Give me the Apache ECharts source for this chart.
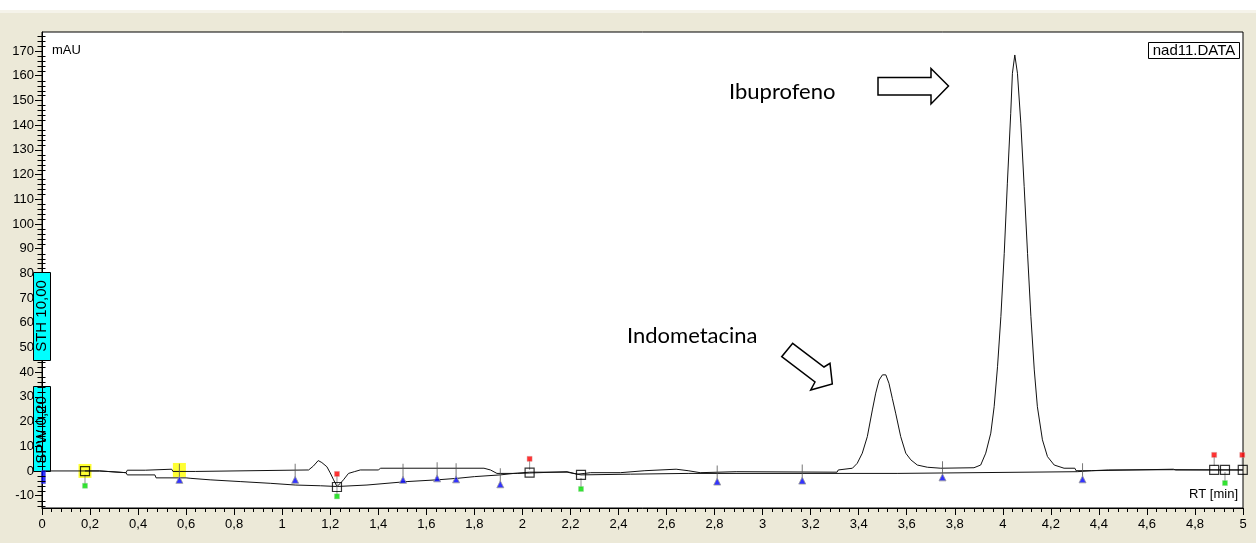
<!DOCTYPE html>
<html>
<head>
<meta charset="utf-8">
<script src="https://cdn.jsdelivr.net/npm/echarts@6/dist/echarts.min.js"></script>
<style>
html,body{margin:0;padding:0;background:#ECE9D8;}
#c{width:1256px;height:543px;}
</style>
</head>
<body>
<div id="c"></div>
<script>
// ---- data (RT in min, signal in mAU) ----
const signalRT  = [0,0.24,0.245,0.35,0.355,0.43,0.435,0.54,0.545,0.64,0.645,1.11,1.13,1.15,1.165,1.186,1.2,1.214,1.228,1.242,1.255,1.276,1.30,1.325,1.40,1.41,1.84,1.867,1.894,1.98,1.985,2.186,2.228,2.26,2.283,2.408,2.41,2.51,2.515,2.64,2.645,2.69,2.695,2.74,2.745,2.89,2.895,3.31,3.315,3.374,3.394,3.415,3.436,3.457,3.471,3.485,3.499,3.513,3.526,3.540,3.554,3.575,3.596,3.617,3.644,3.686,3.742,3.88,3.908,3.929,3.95,3.964,3.978,3.992,4.006,4.019,4.033,4.040,4.05,4.061,4.075,4.089,4.103,4.117,4.131,4.144,4.165,4.186,4.214,4.255,4.30,4.305,4.37,4.375,4.71,4.72,5.0];
const signalMAU = [0,0,-0.7,-0.7,0.3,0.3,0.7,0.7,-0.2,-0.2,0.4,0.4,2.0,4.2,3.4,1.7,-0.8,-3.6,-6.3,-5.0,-3.6,-1.0,-0.3,0.4,0.4,1.1,1.1,0.4,-1.0,-1.0,-0.3,-0.3,-1.3,-1.0,-0.7,-0.7,0.1,0.1,0.7,0.7,0.1,0.1,-0.7,-0.7,-0.3,-0.3,-0.5,-0.5,0.4,1.1,3.1,7.2,13.9,24.7,31.5,36.8,38.9,38.9,35.5,29.4,23.4,13.9,7.2,4.5,2.4,1.5,1.1,1.3,2.4,7.2,15.3,26.0,42.2,62.5,88.1,116.5,144.8,161.0,168.4,161.0,140.8,115.1,88.1,62.5,40.9,26.0,12.6,5.8,2.4,1.1,1.1,0.1,0.1,0.7,0.7,0.4,0.4];

const baselineRT  = [0.179,0.24,0.245,0.35,0.355,0.47,0.475,0.6,0.62,0.7,0.825,0.95,1.054,1.16,1.228,1.353,1.52,1.645,1.728,1.80,1.908,1.964,2.03,2.186,2.244,2.45,2.69,3.56,3.565,4.31,4.37,4.44,4.71,5.0];
const baselineMAU = [0,0,-0.7,-0.7,-1.6,-1.6,-2.8,-2.8,-3.0,-3.6,-4.3,-5.0,-5.7,-6.0,-6.3,-5.7,-4.3,-3.6,-3.0,-2.3,-1.6,-1.0,-0.5,-0.5,-1.6,-1.3,-1.0,-1.0,-0.3,-0.3,0.1,0.4,0.5,0.4];

// integration event markers
const blueRT  = [0.572,1.054,1.503,1.645,1.724,1.908,2.811,3.165,3.749,4.332];
const blueMAU = [-3.6,-3.6,-3.6,-3.0,-3.4,-5.4,-4.3,-3.9,-2.6,-3.4];
const startRT = [0.006];
const startMAU = [-2.5];
const redRT   = [1.228,2.03,4.88,4.997];
const redMAU  = [-1.2,4.9,6.5,6.5];
const greenRT = [0.179,1.228,2.244,4.925];
const greenMAU= [-6.0,-10.3,-7.3,-4.9];
const squareRT  = [0.179,1.228,2.03,2.244,4.88,4.925,4.999];
const squareMAU = [-0.1,-6.5,-0.7,-1.6,0.4,0.4,0.4];
const yellowRT  = [0.179,0.572];
const yellowMAU = [0.0,0.4];

// axis ticks
const yMajorTicks = [-10,0,10,20,30,40,50,60,70,80,90,100,110,120,130,140,150,160,170];
const xMin = 0, xMax = 5, xStep = 0.2;
const yMin = -15, yMax = 177.7;

const zip = (a,b) => a.map((v,i)=>[v,b[i]]);
const yMinorTicks = [-14,-12];
for (let i = 0; i < yMajorTicks.length; i++) {
  for (let k = 1; k < 5; k++) {
    const v = yMajorTicks[i] + k*2;
    if (v <= yMax) yMinorTicks.push(v);
  }
}

const chart = echarts.init(document.getElementById('c'), null, {renderer:'canvas'});
const AX = 'Liberation Sans';

const option = {
  animation: false,
  backgroundColor: '#ECE9D8',
  grid: {left: 42, right: 13, top: 32, bottom: 35, show: true, backgroundColor: '#fff', borderColor: '#000', borderWidth: 1},
  xAxis: {
    type: 'value', min: xMin, max: xMax, interval: xStep,
    axisLine: {show: true, onZero: false, lineStyle: {color: '#000', width: 1}},
    axisTick: {show: true, length: 7, lineStyle: {color: '#000'}},
    minorTick: {show: true, splitNumber: 5, length: 4, lineStyle: {color: '#000'}},
    axisLabel: {color: '#000', fontSize: 13, fontFamily: AX, margin: 10,
      formatter: v => String(Math.round(v*10)/10).replace('.', ',')},
    splitLine: {show: false}
  },
  yAxis: {
    type: 'value', min: yMin, max: yMax,
    axisLine: {show: true, onZero: false, lineStyle: {color: '#000', width: 1}},
    axisTick: {show: true, length: 7, customValues: yMajorTicks, lineStyle: {color: '#000'}},
    axisLabel: {color: '#000', fontSize: 13, fontFamily: AX, margin: 8, customValues: yMajorTicks},
    splitLine: {show: false}
  },
  series: [
    {type: 'line', data: zip(baselineRT, baselineMAU), showSymbol: false, symbol: 'none',
     lineStyle: {color: '#111', width: 1}, z: 2},
    {type: 'line', data: zip(signalRT, signalMAU), showSymbol: false, symbol: 'none',
     lineStyle: {color: '#111', width: 1}, z: 3},
    // yellow highlights
    {type: 'scatter', data: zip(yellowRT, yellowMAU), symbol: 'rect', symbolSize: [13, 14],
     itemStyle: {color: '#FFFF00'}, z: 1, silent: true},
    // start marker (blue bar at RT 0)
    {type: 'scatter', data: zip(startRT, startMAU), symbol: 'rect', symbolSize: [4, 13],
     itemStyle: {color: '#0000FF', borderColor: '#5555cc', borderWidth: 0.5}, z: 5, silent: true},
    // blue sticks + triangles
    {type: 'scatter', data: zip(blueRT, blueMAU), symbol: 'rect', symbolSize: [1, 14], symbolOffset: [0, -9],
     itemStyle: {color: '#555'}, z: 4, silent: true},
    {type: 'scatter', data: zip(blueRT, blueMAU), symbol: 'triangle', symbolSize: [7, 7],
     itemStyle: {color: '#0000FF', borderColor: '#9a9a9a', borderWidth: 1}, z: 5, silent: true},
    // red sticks + heads
    {type: 'scatter', data: zip(redRT, redMAU), symbol: 'rect', symbolSize: [1, 10], symbolOffset: [0, 6],
     itemStyle: {color: '#777'}, z: 4, silent: true},
    {type: 'scatter', data: zip(redRT, redMAU), symbol: 'rect', symbolSize: [5, 5],
     itemStyle: {color: '#FF0000', borderColor: '#c99', borderWidth: 0.5}, z: 5, silent: true},
    // green sticks + heads
    {type: 'scatter', data: zip(greenRT, greenMAU), symbol: 'rect', symbolSize: [1, 10], symbolOffset: [0, -6],
     itemStyle: {color: '#777'}, z: 4, silent: true},
    {type: 'scatter', data: zip(greenRT, greenMAU), symbol: 'rect', symbolSize: [5, 5],
     itemStyle: {color: '#00DD00', borderColor: '#9c9', borderWidth: 0.5}, z: 5, silent: true},
    // squares
    {type: 'scatter', data: zip(squareRT, squareMAU), symbol: 'rect', symbolSize: [9, 9],
     itemStyle: {color: 'rgba(0,0,0,0)', borderColor: '#000', borderWidth: 1.2}, z: 6, silent: true}
  ],
  graphic: [
    {type: 'rect', shape: {x: 0, y: 0, width: 1256, height: 10}, style: {fill: '#fff'}, silent: true},
    {type: 'rect', shape: {x: 0, y: 10, width: 1256, height: 3}, style: {fill: '#F5F3EA'}, silent: true},
    // mAU
    {type: 'text', x: 52, y: 44, style: {text: 'mAU', font: '13px ' + AX, fill: '#000'}, silent: true},
    // data file box
    {type: 'rect', shape: {x: 1148.5, y: 42.5, width: 91, height: 16}, style: {fill: '#fff', stroke: '#000', lineWidth: 1}, silent: true},
    {type: 'text', x: 1194, y: 51, style: {text: 'nad11.DATA', font: '15px ' + AX, fill: '#000', textAlign: 'center', textVerticalAlign: 'middle', align: 'center', verticalAlign: 'middle'}, silent: true},
    // RT [min]
    {type: 'text', x: 1238, y: 494, style: {text: 'RT [min]', font: '13px ' + AX, fill: '#000', textAlign: 'right', textVerticalAlign: 'middle', align: 'right', verticalAlign: 'middle'}, silent: true},
    // cyan parameter boxes
    {type: 'rect', z: 100, shape: {x: 33.5, y: 272.5, width: 17, height: 88}, style: {fill: '#00FFFF', stroke: '#000', lineWidth: 1}, silent: true},
    {type: 'text', z: 101, x: 42, y: 316, rotation: Math.PI/2, style: {text: 'STH 10,00', font: '15px ' + AX, fill: '#000', textAlign: 'center', textVerticalAlign: 'middle', align: 'center', verticalAlign: 'middle'}, silent: true},
    {type: 'rect', shape: {x: 33.5, y: 386.5, width: 17, height: 85}, style: {fill: '#00FFFF', stroke: '#000', lineWidth: 1}, silent: true},
    {type: 'text', x: 42, y: 430, rotation: Math.PI/2, style: {text: 'SPW 0,20', font: '15px ' + AX, fill: '#000', textAlign: 'center', textVerticalAlign: 'middle', align: 'center', verticalAlign: 'middle'}, silent: true},
    // annotations
    {type: 'text', x: 729, y: 103, style: {text: 'Ibuprofeno', font: '22px Lato', fill: '#000', textVerticalAlign: 'bottom', verticalAlign: 'bottom'}, silent: true},
    {type: 'polygon', shape: {points: [[878,77.5],[931,77.5],[931,68.5],[948.5,86],[931,104],[931,95],[878,95]]},
     style: {fill: '#fff', stroke: '#000', lineWidth: 1.5}, silent: true},
    {type: 'text', x: 627, y: 347, style: {text: 'Indometacina', font: '22px Lato', fill: '#000', textVerticalAlign: 'bottom', verticalAlign: 'bottom'}, silent: true},
    {type: 'polygon', shape: {points: [[792.7,343.3],[824,367],[830,363.3],[832.3,384],[810.7,390],[815,382],[781.7,356.7]]},
     style: {fill: '#fff', stroke: '#000', lineWidth: 1.5}, silent: true}
  ]
};
chart.setOption(option);

// minor y ticks placed through the library's own scale
try {
  const minorTickGraphics = yMinorTicks.map(v => {
    const p = chart.convertToPixel('grid', [xMin, v]);
    const y = Math.round(p[1]) + 0.5;
    const x = Math.round(p[0]) + 0.5;
    return {type: 'line', z: 50, silent: true, shape: {x1: x - 5, y1: y, x2: x + 3, y2: y}, style: {stroke: '#000', lineWidth: 1}};
  });
  chart.setOption({graphic: option.graphic.concat(minorTickGraphics)});
} catch (e) { console.error(e); }
</script>
</body>
</html>
